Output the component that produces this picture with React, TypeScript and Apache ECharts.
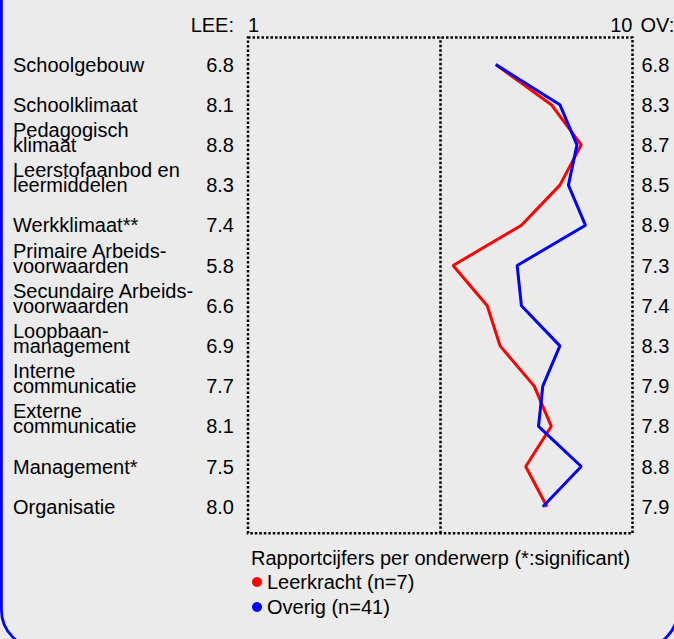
import React, { useEffect, useRef } from 'react';
import * as echarts from 'echarts';

const categories: string[] = [
  'Schoolgebouw',
  'Schoolklimaat',
  'Pedagogisch\nklimaat',
  'Leerstofaanbod en\nleermiddelen',
  'Werkklimaat**',
  'Primaire Arbeids-\nvoorwaarden',
  'Secundaire Arbeids-\nvoorwaarden',
  'Loopbaan-\nmanagement',
  'Interne\ncommunicatie',
  'Externe\ncommunicatie',
  'Management*',
  'Organisatie',
];
const leeValues: number[] = [6.8, 8.1, 8.8, 8.3, 7.4, 5.8, 6.6, 6.9, 7.7, 8.1, 7.5, 8.0];
const ovValues: number[] = [6.8, 8.3, 8.7, 8.5, 8.9, 7.3, 7.4, 8.3, 7.9, 7.8, 8.8, 7.9];
const xTickValues: number[] = [1, 10];
const xMin = 1;
const xMax = 10;
const midValue = 5.5;
const seriesNames: string[] = ['Leerkracht (n=7)', 'Overig (n=41)'];
const titleText = 'Rapportcijfers per onderwerp (*:significant)';
const leeHeader = 'LEE:';
const ovHeader = 'OV:';

export default function App() {
  const ref = useRef<HTMLDivElement>(null);
  useEffect(() => {
    if (!ref.current) return;
    const chart = echarts.init(ref.current, null, { renderer: 'svg' });
    const font = "'Liberation Sans', Arial, sans-serif";
    const dotted = [2.5, 2];
    const catAxisBase = {
      gridIndex: 1,
      type: 'category',
      data: categories,
      inverse: true,
      boundaryGap: false,
      offset: 0,
      axisLine: { show: false },
      axisTick: { show: false },
      splitLine: { show: false },
    };
    const labelBase = {
      interval: 0,
      fontSize: 20,
      color: '#000',
      fontFamily: font,
    };
    const option: any = {
      animation: false,
      backgroundColor: '#ebebeb',
      textStyle: { fontFamily: font },
      title: {
        text: titleText,
        left: 251,
        top: 548,
        padding: 0,
        textStyle: { fontSize: 20, fontWeight: 'normal', color: '#000', fontFamily: font, lineHeight: 20 },
      },
      legend: {
        data: seriesNames,
        orient: 'vertical',
        left: 252,
        top: 572,
        padding: 0,
        itemWidth: 10,
        itemHeight: 10,
        itemGap: 5,
        icon: 'circle',
        textStyle: { fontSize: 20, color: '#000', fontFamily: font, lineHeight: 20 },
      },
      grid: [
        {
          left: 248, right: 41.5, top: 37.5, bottom: 105.7,
          show: true, borderColor: '#000', borderWidth: 2.5, borderType: dotted,
          backgroundColor: 'transparent', outerBoundsMode: 'none', containLabel: false,
        },
        {
          left: 248, right: 41.5, top: 64.5, bottom: 132.3,
          outerBoundsMode: 'none', containLabel: false,
        },
      ],
      xAxis: [
        {
          gridIndex: 0, type: 'value', min: xMin, max: xMax, position: 'top',
          axisLine: { show: false }, axisTick: { show: false }, splitLine: { show: false },
          axisLabel: {
            customValues: xTickValues,
            alignMinLabel: 'left',
            alignMaxLabel: 'right',
            margin: 3,
            fontSize: 20,
            color: '#000',
            fontFamily: font,
          },
        },
        { gridIndex: 1, type: 'value', min: xMin, max: xMax, show: false },
      ],
      yAxis: [
        { gridIndex: 0, type: 'value', min: 0, max: 1, show: false },
        {
          ...catAxisBase,
          position: 'left',
          axisLabel: {
            ...labelBase,
            align: 'left',
            margin: 235,
            lineHeight: 15,
            formatter: (_v: string, i: number) =>
              categories[i].includes('\n') ? categories[i] + '\n ' : categories[i],
          },
        },
        {
          ...catAxisBase,
          position: 'left',
          axisLabel: {
            ...labelBase,
            margin: 14,
            formatter: (_v: string, i: number) => leeValues[i].toFixed(1),
          },
        },
        {
          ...catAxisBase,
          position: 'right',
          axisLabel: {
            ...labelBase,
            margin: 9,
            formatter: (_v: string, i: number) => ovValues[i].toFixed(1),
          },
        },
      ],
      series: [
        {
          type: 'line',
          xAxisIndex: 0,
          yAxisIndex: 0,
          data: [[midValue, 0.5]],
          symbol: 'none',
          showSymbol: false,
          silent: true,
          lineStyle: { width: 0 },
          markLine: {
            silent: true,
            symbol: ['none', 'none'],
            label: { show: false },
            lineStyle: { color: '#000', width: 2.5, type: dotted },
            data: [{ xAxis: midValue }],
          },
        },
        {
          name: seriesNames[0],
          type: 'line',
          xAxisIndex: 1,
          yAxisIndex: 1,
          data: leeValues.map((v, i) => [v, i]),
          symbol: 'none',
          color: '#ff0000',
          lineStyle: { color: '#ff0000', width: 3 },
        },
        {
          name: seriesNames[1],
          type: 'line',
          xAxisIndex: 1,
          yAxisIndex: 1,
          data: ovValues.map((v, i) => [v, i]),
          symbol: 'none',
          color: '#0000ff',
          lineStyle: { color: '#0000ff', width: 3 },
        },
      ],
      graphic: [
        {
          type: 'rect',
          silent: true,
          shape: { x: 1.4, y: -50, width: 676.5, height: 698, r: 38 },
          style: { fill: 'none', stroke: '#0000ff', lineWidth: 2.8 },
        },
        {
          type: 'text',
          x: 234,
          y: 24.5,
          style: {
            text: leeHeader, fontSize: 20, fontFamily: font, fill: '#000',
            align: 'right', verticalAlign: 'middle',
          },
        },
        {
          type: 'text',
          x: 640.5,
          y: 24.5,
          style: {
            text: ovHeader, fontSize: 20, fontFamily: font, fill: '#000',
            align: 'left', verticalAlign: 'middle',
          },
        },
      ],
    };
    chart.setOption(option);
    return () => chart.dispose();
  }, []);
  return (
    <div
      ref={ref}
      style={{ position: 'fixed', left: 0, top: 0, width: 674, height: 639 }}
    />
  );
}
